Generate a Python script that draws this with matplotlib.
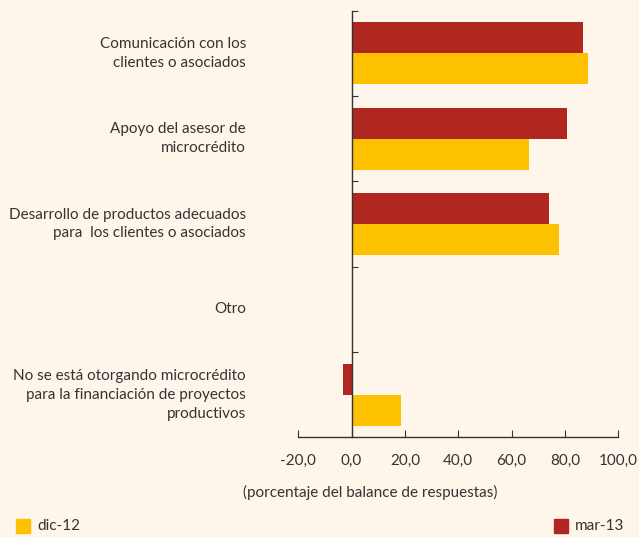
import numpy as np
import matplotlib
matplotlib.use("Agg")
import matplotlib.pyplot as plt
from matplotlib.patches import Rectangle

plt.rcParams['font.family'] = ['Lato', 'DejaVu Sans']

categories = ["Comunicación con los\nclientes o asociados",
              "Apoyo del asesor de\nmicrocrédito",
              "Desarrollo de productos adecuados\npara  los clientes o asociados",
              "Otro",
              "No se está otorgando microcrédito\npara la financiación de proyectos\nproductivos"]
mar13 = [86.9, 80.6, 74.1, 0.0, -3.1]
dic12 = [88.7, 66.5, 77.7, 0.0, 18.5]
xticks = [-20, 0, 20, 40, 60, 80, 100]
xticklabels = ["-20,0", "0,0", "20,0", "40,0", "60,0", "80,0", "100,0"]

bg = "#FEF6EA"
red = "#B0271F"
yellow = "#FDC100"
txt = "#333333"

fig = plt.figure(figsize=(6.39, 5.37), dpi=100, facecolor=bg)
ax = fig.add_axes([0.4668, 0.1857, 0.5008, 0.7944])
ax.set_facecolor(bg)

y = np.arange(len(categories))
h = 0.363
ax.barh(y - h / 2, mar13, height=h, color=red)
ax.barh(y + h / 2, dic12, height=h, color=yellow)

ax.set_xlim(-20, 100)
ax.set_ylim(4.5, -0.5)

for s in ["top", "right"]:
    ax.spines[s].set_visible(False)
ax.spines["left"].set_position(("data", 0))
ax.spines["left"].set_color(txt)
ax.spines["bottom"].set_color(txt)
ax.spines["left"].set_linewidth(1)
ax.spines["bottom"].set_linewidth(1)

ax.set_yticks([-0.5, 0.5, 1.5, 2.5, 3.5])
ax.set_yticklabels([])
ax.tick_params(axis="y", direction="in", length=4, color=txt)
ax.set_xticks(xticks)
ax.set_xticklabels(xticklabels, fontsize=11, color=txt)
ax.tick_params(axis="x", direction="in", length=5, color=txt, pad=12)

for yi, lab in zip(y, categories):
    ax.text(-39.6, yi, lab, ha="right", va="center", fontsize=11,
            color=txt, linespacing=1.45, clip_on=False)

fig.text(370 / 639, 1 - 492 / 537, "(porcentaje del balance de respuestas)",
         ha="center", va="center", fontsize=11, color=txt)

fig.patches.append(Rectangle((16 / 639, 1 - 533 / 537), 14 / 639, 14 / 537,
                             transform=fig.transFigure, color=yellow))
fig.text(37 / 639, 1 - 526 / 537, "dic-12", ha="left", va="center",
         fontsize=11, color=txt)
fig.patches.append(Rectangle((554 / 639, 1 - 533 / 537), 14 / 639, 14 / 537,
                             transform=fig.transFigure, color=red))
fig.text(575 / 639, 1 - 526 / 537, "mar-13", ha="left", va="center",
         fontsize=11, color=txt)

fig.savefig("out.png", dpi=100, facecolor=bg)
